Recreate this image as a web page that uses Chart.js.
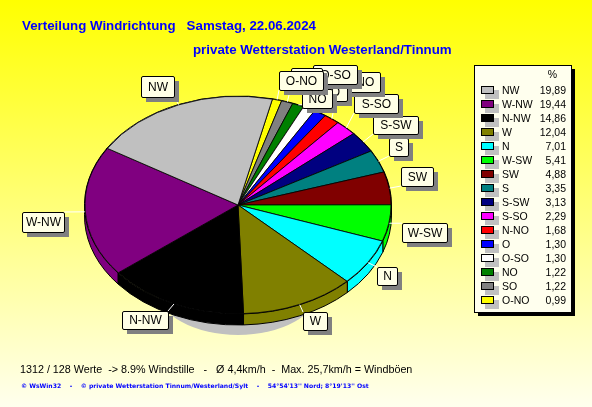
<!DOCTYPE html>
<html lang="de">
<head>
<meta charset="utf-8">
<title>Verteilung Windrichtung</title>
<style>
  html, body { margin: 0; padding: 0; background: #fff; }
  canvas { display: block; }
</style>
<script src="https://cdn.jsdelivr.net/npm/chart.js@4/dist/chart.umd.min.js"></script>
</head>
<body>
<canvas id="chart" width="592" height="407"></canvas>
<script>
// legend order, largest first
const directions = ["NW", "W-NW", "N-NW", "W", "N", "W-SW", "SW", "S", "S-SW", "S-SO", "N-NO", "O", "O-SO", "NO", "SO", "O-NO"];
const percents = [19.89, 19.44, 14.86, 12.04, 7.01, 5.41, 4.88, 3.35, 3.13, 2.29, 1.68, 1.30, 1.30, 1.22, 1.22, 0.99];
const colors = ["#c0c0c0", "#800080", "#000000", "#808000", "#00ffff", "#00ff00", "#800000", "#008080", "#000080", "#ff00ff", "#ff0000", "#0000ff", "#ffffff", "#008000", "#808080", "#ffff00"];

const titleLine1 = "Verteilung Windrichtung   Samstag, 22.06.2024";
const titleLine2 = "private Wetterstation Westerland/Tinnum";
const footerLine1 = "1312 / 128 Werte  -> 8.9% Windstille   -   Ø 4,4km/h  -  Max. 25,7km/h = Windböen";
const footerLine2 = "© WsWin32    -    © private Wetterstation Tinnum/Westerland/Sylt    -    54°54'13'' Nord; 8°19'13'' Ost";

// callout boxes: left, top, right, bottom
const calloutBoxes = {
  "NW": [141, 76, 174, 97],
  "W-NW": [22, 212, 64, 232],
  "N-NW": [122, 311, 168, 329],
  "W": [303, 312, 327, 330],
  "N": [377, 267, 397, 285],
  "W-SW": [402, 223, 447, 242],
  "SW": [401, 167, 433, 186],
  "S": [389, 138, 408, 156],
  "S-SW": [373, 116, 418, 134],
  "S-SO": [354, 94, 398, 113],
  "N-NO": [337, 72, 380, 92],
  "O": [323, 83, 347, 101],
  "O-SO": [313, 65, 357, 84],
  "NO": [302, 89, 332, 108],
  "SO": [291, 68, 322, 87],
  "O-NO": [279, 71, 323, 90],
};

const PIE_X = 238;
const PIE_Y = 205;
const PIE_RX = 153.5;
const PIE_RY = 109;
const PIE_DEPTH = 11;
const squash = PIE_RY / PIE_RX;

function drawBackground(chart) {
  const { ctx, width, height } = chart;
  const gradient = ctx.createLinearGradient(0, 0, 0, height);
  gradient.addColorStop(0, "#ffff00");
  gradient.addColorStop(1, "#ffffee");
  ctx.fillStyle = gradient;
  ctx.fillRect(0, 0, width, height);
}

function drawPieBody(chart) {
  const { ctx } = chart;
  const arcs = chart.getDatasetMeta(0).data;

  // drop shadow below the pie
  ctx.fillStyle = "#c0c0c0";
  ctx.beginPath();
  ctx.ellipse(PIE_X, 290, 80, 45, 0, 0, Math.PI * 2);
  ctx.fill();

  // rim of each slice as a band between the top ellipse and the shifted one
  ctx.strokeStyle = "#000000";
  ctx.lineWidth = 1;
  for (const arc of arcs) {
    ctx.fillStyle = arc.options.backgroundColor;
    ctx.beginPath();
    ctx.ellipse(PIE_X, PIE_Y, PIE_RX, PIE_RY, 0, arc.startAngle, arc.endAngle);
    ctx.ellipse(PIE_X, PIE_Y + PIE_DEPTH, PIE_RX, PIE_RY, 0, arc.endAngle, arc.startAngle, true);
    ctx.closePath();
    ctx.fill();
    ctx.stroke();
  }
}

function boxPath(ctx, x, y, w, h, r) {
  ctx.beginPath();
  ctx.roundRect(x, y, w, h, r);
}

function drawCallouts(chart) {
  const { ctx } = chart;
  const arcs = chart.getDatasetMeta(0).data;
  const count = directions.length;

  // white leader lines from the rim to each box
  ctx.strokeStyle = "#ffffff";
  ctx.lineWidth = 1;
  directions.forEach((name, i) => {
    const arc = arcs[count - 1 - i];
    const mid = (arc.startAngle + arc.endAngle) / 2;
    const x = PIE_X + PIE_RX * Math.cos(mid);
    const y = PIE_Y + PIE_RY * Math.sin(mid);
    const [left, top, right, bottom] = calloutBoxes[name];
    ctx.beginPath();
    ctx.moveTo(x, y);
    ctx.lineTo(Math.min(right, Math.max(left, x)), Math.min(bottom, Math.max(top, y)));
    ctx.stroke();
  });

  ctx.font = "12px 'Liberation Sans'";
  ctx.textAlign = "center";
  ctx.textBaseline = "middle";
  directions.forEach((name) => {
    const [left, top, right, bottom] = calloutBoxes[name];
    const w = right - left;
    const h = bottom - top;
    ctx.fillStyle = "#808080";
    ctx.fillRect(left + 5, top + 5, w, h);
    boxPath(ctx, left + 0.5, top + 0.5, w, h, 1.5);
    ctx.fillStyle = "#ffffe6";
    ctx.fill();
    ctx.strokeStyle = "#000000";
    ctx.stroke();
    ctx.fillStyle = "#000000";
    ctx.fillText(name, left + w / 2 + 0.5, top + h / 2 + 1);
  });
}

function drawLegendBox(chart) {
  const { ctx } = chart;
  ctx.fillStyle = "#000000";
  ctx.fillRect(478, 69, 97, 247);
  ctx.fillStyle = "#ffffee";
  ctx.fillRect(474.5, 65.5, 97, 247);
  ctx.strokeStyle = "#000000";
  ctx.lineWidth = 1;
  ctx.strokeRect(474.5, 65.5, 97, 247);

  ctx.font = "10.5px 'Liberation Sans'";
  ctx.textBaseline = "middle";
  ctx.textAlign = "right";
  ctx.fillStyle = "#000000";
  ctx.fillText("%", 557, 75);

  directions.forEach((name, i) => {
    const rowY = 91 + i * 14;
    ctx.fillStyle = "#c0c0c0";
    ctx.fillRect(485, rowY - 1, 14, 9);
    ctx.fillStyle = colors[i];
    ctx.fillRect(481.5, rowY - 4.5, 12, 7);
    ctx.strokeStyle = "#000000";
    ctx.strokeRect(481.5, rowY - 4.5, 12, 7);

    ctx.fillStyle = "#000000";
    ctx.textAlign = "left";
    ctx.fillText(name, 502, rowY);
    ctx.textAlign = "right";
    ctx.fillText(percents[i].toFixed(2).replace(".", ","), 566, rowY);
  });
}

function drawTexts(chart) {
  const { ctx } = chart;
  ctx.textAlign = "left";
  ctx.textBaseline = "alphabetic";
  ctx.fillStyle = "#0000ff";
  ctx.font = "bold 13.3px 'Liberation Sans'";
  ctx.fillText(titleLine1, 22, 30);
  ctx.fillText(titleLine2, 193, 54);

  ctx.fillStyle = "#000000";
  ctx.font = "10.75px 'Liberation Sans'";
  ctx.fillText(footerLine1, 20, 373);

  ctx.fillStyle = "#0000ff";
  ctx.font = "bold 6.1px 'DejaVu Sans'";
  ctx.fillText(footerLine2, 21, 388);
}

const windPiePlugin = {
  id: "windPie",
  beforeDraw: drawBackground,
  beforeDatasetsDraw: drawPieBody,
  beforeDatasetDraw(chart) {
    // the library draws a circle, flatten it to the ellipse of the 3D pie
    const { ctx } = chart;
    const arc = chart.getDatasetMeta(0).data[0];
    ctx.save();
    ctx.translate(PIE_X, PIE_Y);
    ctx.scale(1, squash);
    ctx.translate(-arc.x, -arc.y);
  },
  afterDatasetDraw(chart) {
    chart.ctx.restore();
  },
  afterDatasetsDraw(chart) {
    drawCallouts(chart);
    drawLegendBox(chart);
    drawTexts(chart);
  },
};

new Chart(document.getElementById("chart"), {
  type: "pie",
  data: {
    labels: directions.slice().reverse(),
    datasets: [
      {
        // the picture runs counter-clockwise, so feed the slices back to front
        data: percents.slice().reverse(),
        backgroundColor: colors.slice().reverse(),
        borderColor: "#000000",
        borderWidth: 1,
        clip: false,
      },
    ],
  },
  options: {
    responsive: false,
    animation: false,
    events: [],
    rotation: 13,
    layout: {
      padding: { left: 84.5, right: 200.5, top: 51.5, bottom: 48.5 },
    },
    plugins: {
      legend: { display: false },
      tooltip: { enabled: false },
      title: { display: false },
    },
  },
  plugins: [windPiePlugin],
});
</script>
</body>
</html>
